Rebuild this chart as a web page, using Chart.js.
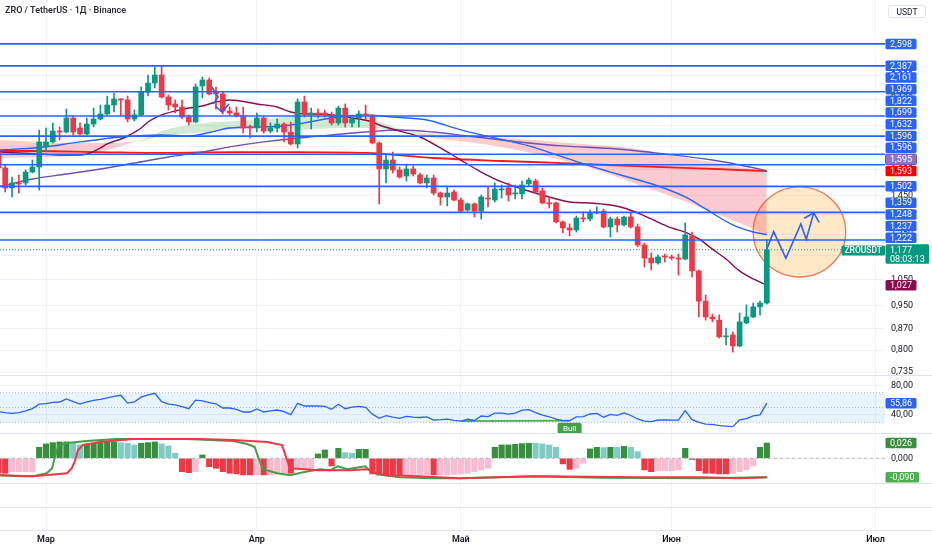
<!DOCTYPE html>
<html lang="ru">
<head>
<meta charset="utf-8">
<title>ZRO / TetherUS</title>
<script src="https://cdn.jsdelivr.net/npm/chart.js@4.4.1/dist/chart.umd.min.js"></script>
<style>
  html, body { margin:0; padding:0; background:#ffffff; }
  #wrap { position:relative; width:932px; height:550px; overflow:hidden; background:#fff; font-family: Roboto, 'Noto Sans', sans-serif; }
  canvas { position:absolute; left:0; display:block; }
  .sep { position:absolute; left:0; width:932px; height:1px; background:#e0e3eb; }
  #title { position:absolute; left:5px; top:5px; font-size:9px; font-weight:600; color:#2a2e39; white-space:nowrap; }
  #unit { position:absolute; left:888px; width:38px; top:5px; height:13px; line-height:13px; text-align:center; font-size:8.5px; color:#131722; border:1px solid #e0e3eb; border-radius:3px; box-sizing:border-box; }
</style>
</head>
<body>
<div id="wrap">
  <canvas id="cMain" width="932" height="375" style="top:0px"></canvas>
  <canvas id="cRsi" width="932" height="58" style="top:375px"></canvas>
  <canvas id="cOsc" width="932" height="50" style="top:433px"></canvas>
  <canvas id="cTime" width="932" height="67" style="top:483px"></canvas>
  <div class="sep" style="top:375px"></div>
  <div class="sep" style="top:433px"></div>
  <div class="sep" style="top:483px"></div>
  <div class="sep" style="top:507px"></div>
  <div class="sep" style="top:530px"></div>
  <div id="title">ZRO / TetherUS · 1Д · Binance</div>
  <div id="unit">USDT</div>
</div>
<script>
// ---------------- DATA ----------------
// day index 0 = 1 March; first candle = 22 Feb
const firstDay = -7;
const monthDays  = [0, 31, 61, 92, 122];
const monthNames = ['Мар', 'Апр', 'Май', 'Июн', 'Июл'];

const opens = [1.714,1.612,1.493,1.522,1.522,1.587,1.618,1.748,1.782,1.858,
  1.851,1.954,1.880,1.837,1.909,1.946,1.984,2.054,2.102,2.094,
  1.946,1.977,2.159,2.235,2.305,2.118,2.062,2.038,1.961,1.924,
  2.210,2.261,2.159,2.143,2.007,1.992,1.969,1.887,1.880,1.954,
  1.858,1.880,1.909,1.851,1.768,2.078,1.977,1.992,1.992,1.977,
  1.917,2.030,1.917,1.954,1.984,1.969,1.775,1.606,1.662,1.600,
  1.563,1.606,1.569,1.522,1.551,1.464,1.442,1.470,1.425,1.371,
  1.404,1.366,1.436,1.425,1.481,1.493,1.459,1.459,1.516,1.533,
  1.476,1.409,1.409,1.310,1.280,1.270,1.330,1.325,1.356,1.366,
  1.285,1.325,1.295,1.335,1.285,1.199,1.140,1.119,1.149,1.145,
  1.140,1.136,1.241,1.085,0.966,0.909,0.898,0.842,0.848,0.813,
  0.888,0.909,0.945,0.959];
const highs = [1.727,1.631,1.557,1.569,1.600,1.662,1.866,1.880,1.917,1.887,
  2.022,1.969,1.917,1.954,2.030,2.054,2.126,2.151,2.105,2.126,
  2.015,2.201,2.305,2.377,2.386,2.135,2.094,2.094,1.977,2.227,
  2.288,2.279,2.201,2.159,2.038,2.038,2.038,1.902,1.992,1.969,
  1.917,1.946,1.917,1.924,2.102,2.126,2.030,2.022,2.015,1.999,
  2.046,2.062,1.961,2.007,2.054,1.977,1.782,1.695,1.714,1.618,
  1.637,1.625,1.581,1.569,1.569,1.470,1.499,1.481,1.436,1.409,
  1.409,1.453,1.499,1.522,1.510,1.522,1.510,1.533,1.551,1.545,
  1.493,1.442,1.414,1.315,1.300,1.340,1.361,1.371,1.388,1.377,
  1.335,1.335,1.340,1.356,1.300,1.208,1.163,1.154,1.158,1.154,
  1.158,1.305,1.260,1.089,0.989,0.919,0.916,0.871,0.858,0.923,
  0.952,0.959,0.966,1.222];
const lows = [1.600,1.470,1.442,1.464,1.510,1.581,1.481,1.714,1.775,1.795,
  1.844,1.830,1.830,1.830,1.887,1.939,1.977,1.999,1.969,1.924,
  1.931,1.972,2.126,2.193,2.110,2.015,1.992,1.946,1.902,1.917,
  2.110,2.135,2.022,1.984,1.977,1.961,1.844,1.809,1.851,1.844,
  1.844,1.851,1.782,1.761,1.741,1.961,1.873,1.954,1.961,1.902,
  1.902,1.887,1.887,1.887,1.939,1.768,1.404,1.522,1.581,1.551,
  1.533,1.563,1.516,1.493,1.453,1.398,1.393,1.420,1.361,1.366,
  1.335,1.325,1.388,1.414,1.436,1.420,1.431,1.431,1.504,1.464,
  1.404,1.382,1.305,1.256,1.241,1.260,1.310,1.315,1.351,1.280,
  1.236,1.260,1.290,1.280,1.190,1.102,1.089,1.114,1.123,1.132,
  1.068,1.132,1.060,0.909,0.898,0.892,0.838,0.816,0.794,0.810,
  0.886,0.907,0.916,0.955];
const closes = [1.612,1.493,1.522,1.516,1.587,1.618,1.782,1.782,1.858,1.851,
  1.954,1.851,1.837,1.909,1.946,1.984,2.054,2.102,2.094,1.946,
  1.977,2.159,2.235,2.305,2.118,2.054,2.038,1.961,1.924,2.201,
  2.261,2.143,2.143,2.007,1.992,1.969,1.880,1.880,1.954,1.858,
  1.880,1.909,1.851,1.768,2.078,1.984,1.992,1.984,1.977,1.917,
  2.030,1.917,1.946,1.984,1.977,1.775,1.606,1.662,1.600,1.557,
  1.606,1.575,1.522,1.551,1.464,1.442,1.464,1.425,1.366,1.404,
  1.366,1.442,1.431,1.487,1.487,1.453,1.464,1.510,1.539,1.470,
  1.409,1.404,1.310,1.280,1.270,1.330,1.325,1.356,1.361,1.285,
  1.325,1.295,1.335,1.285,1.199,1.140,1.119,1.145,1.145,1.140,
  1.136,1.246,1.085,0.966,0.909,0.902,0.842,0.845,0.813,0.892,
  0.909,0.945,0.959,1.177];

// moving averages (day, price)
const maroonDays = [-7,-4,-1,2,5,6,8,9,11,12,14,15,17,19,21,23,25,27,28,31,34,36,38,40,45,48,49,52,55,58,61,64,67,70,74,77,80,83,85,87,89,92,94,96,98,100,102,104,106];
const maroonVals = [1.714,1.708,1.701,1.695,1.695,1.701,1.741,1.768,1.802,1.823,1.880,1.924,1.977,2.007,2.030,2.046,2.078,2.094,2.090,2.062,2.038,1.999,1.984,1.984,1.954,1.924,1.902,1.858,1.816,1.741,1.662,1.587,1.528,1.487,1.442,1.414,1.409,1.398,1.382,1.356,1.325,1.280,1.260,1.227,1.180,1.136,1.085,1.052,1.027];
const blueDays = [-7,-1,5,11,17,21,24,27,31,35,38,42,47,51,56,61,66,71,76,80,84,90,94,97,101,104,106];
const blueVals = [1.727,1.744,1.782,1.816,1.830,1.823,1.848,1.880,1.887,1.895,1.917,1.954,1.977,1.961,1.939,1.866,1.809,1.755,1.682,1.625,1.575,1.504,1.442,1.377,1.295,1.260,1.248];
const purpleDays = [-7,-2,3,8,13,18,23,27,32,37,42,47,52,57,62,67,71,76,84,91,98,102,106];
const purpleVals = [1.499,1.545,1.575,1.606,1.643,1.682,1.714,1.748,1.782,1.809,1.830,1.851,1.866,1.851,1.823,1.795,1.775,1.755,1.734,1.701,1.662,1.631,1.595];
const redDays = [-7,-2,8,18,27,37,47,57,67,76,84,96,106];
const redVals = [1.721,1.721,1.714,1.708,1.714,1.714,1.708,1.675,1.656,1.643,1.628,1.609,1.593];

// EMA cloud edges
const cloudDays = [-7,-1,5,9,12,14,17,22,31,37,43,47,50,53,57,62,67,72,77,81,86,91,95,99,102,106];
const cloudFast = [1.675,1.682,1.695,1.727,1.768,1.795,1.858,1.909,1.939,1.969,1.984,1.961,1.909,1.858,1.809,1.782,1.748,1.701,1.650,1.600,1.528,1.459,1.404,1.346,1.305,1.246];
const cloudSlow = [1.795,1.782,1.775,1.775,1.782,1.788,1.823,1.844,1.880,1.866,1.880,1.880,1.873,1.855,1.837,1.823,1.809,1.795,1.775,1.761,1.741,1.701,1.669,1.643,1.618,1.594];

// horizontal levels
const levelLines = [2.598, 2.387, 2.161, 1.969, 1.822, 1.699, 1.632, 1.502, 1.359, 1.222];
const extraLevelLabels = [1.596, 1.596, 1.237];
const priceTicks = [0.735, 0.8, 0.87, 0.95, 1.05, 1.15, 1.25, 1.35, 1.45, 1.6, 1.75, 1.9, 2.1, 2.3];
const countdown = '08:03:13';

// drawings
const zigDays = [106, 107, 108.8, 111, 111.8, 112.9];
const zigPrices = [1.180, 1.262, 1.139, 1.300, 1.225, 1.357];
const arrowDays = [111.5, 112.9, 113.7];
const arrowPrices = [1.329, 1.357, 1.308];
const mark1Days = [24.4, 25.3, 24.6];
const mark1Prices = [2.201, 2.118, 2.062];
const mark2Days = [24.9, 25.9, 26.9];
const mark2Prices = [2.046, 1.999, 2.062];
const ellipseDays = [104.0, 117.6];
const ellipsePrices = [1.060, 1.499];

// RSI
const rsiVals = [44.3,43.0,42.1,43.0,45.5,48.5,54.5,55.3,57.0,57.4,
  61.5,58.0,54.7,57.5,59.5,61.0,63.0,65.0,66.5,56.0,
  57.5,64.0,67.0,69.2,58.0,54.7,53.5,51.1,48.4,60.0,
  59.0,56.5,55.0,49.3,49.3,47.6,43.9,43.9,48.0,43.9,
  45.5,46.6,44.5,40.3,55.7,52.0,52.0,52.0,51.6,47.6,
  54.3,48.4,50.5,51.6,50.3,41.0,35.4,38.9,37.0,35.4,
  38.1,37.0,36.5,37.2,33.1,33.5,34.3,32.5,31.5,34.1,
  32.5,38.5,37.8,42.3,42.5,41.0,42.5,46.5,47.0,43.0,
  39.8,37.5,34.2,32.3,32.2,37.3,37.6,41.2,42.1,36.9,
  40.8,39.5,42.7,39.2,34.5,31.6,30.8,33.1,33.1,33.0,
  33.0,45.7,33.5,30.0,27.6,27.3,25.6,24.8,24.2,33.3,
  35.0,38.6,40.0,55.86];
const rsiLevels = [70, 50, 30];
const rsiTicks = [40, 80];
const bullStart = 61, bullEnd = 77;

// oscillator histogram + lines
const histVals = [-0.0255,-0.0255,-0.0227,-0.0227,-0.0227,-0.0227,0.0187,0.0244,0.0266,0.0278,
  0.0278,0.0255,0.0227,0.0244,0.0255,0.0266,0.0278,0.0278,0.0266,0.0255,
  0.0227,0.0255,0.0266,0.0278,0.0244,0.021,0.0085,-0.0227,-0.0244,-0.0227,
  0.0057,-0.0142,-0.017,-0.0227,-0.0255,-0.0266,-0.0283,-0.0283,-0.0283,-0.0283,
  -0.0283,-0.0266,-0.0255,-0.0255,-0.0198,-0.017,-0.017,0.0074,0.0142,-0.013,
  0.017,0.0096,0.0085,0.0153,0.0153,-0.0266,-0.0283,-0.0283,-0.0283,-0.0283,
  -0.0283,-0.0283,-0.0283,-0.0283,-0.0283,-0.0283,-0.0283,-0.0272,-0.0266,-0.0255,
  -0.0227,-0.0198,-0.017,0.0187,0.0227,0.0227,0.0238,0.025,0.0255,0.0255,
  0.0244,0.0227,0.0187,-0.0096,-0.0187,-0.017,-0.0085,0.0159,0.0187,0.0181,
  0.0187,0.0187,0.0204,0.0187,0.0113,-0.0198,-0.0227,-0.021,-0.021,-0.021,
  -0.0198,0.017,-0.002,-0.021,-0.0255,-0.0255,-0.0266,-0.0266,-0.0255,-0.0227,
  -0.0198,-0.013,0.0187,0.026];
const histStates = 'RRrrrrGGGG' + 'GggGGGGGgg' + 'gGGGgggRRr' + 'GRRRRRRRrR' + 'rrrRrrrGGR' +
  'GggGGRRRRR' + 'rrrrRrrrrr' + 'rrrGGGGGGg' + 'gggRRrrGGg' + 'GgGggRRrrr' + 'rGRRRRRRrr' + 'rrGG';
const greenLineDays = [-6.8,-3.8,-1.9,0.1,0.9,1.3,1.8,3.1,6,10.4,16.3,20.7,27.5,29.6,30.7,31.2,31.9,34,35.9,37.8,40.3,41.8,42.9,44.3,46.9,47.6,48.7,52,56.9,60.9,71.6,81.5,96,106];
const greenLineVals = [-0.04,-0.064,-0.064,0.01,0.134,0.406,0.678,0.752,0.802,0.851,0.851,0.851,0.802,0.728,0.653,0.406,0.109,0.01,-0.04,0.035,0.109,0.084,0.183,0.109,0.183,0.084,-0.015,-0.089,-0.114,-0.114,-0.064,-0.1,-0.114,-0.09];
const redLineDays = [-6.8,-1.9,3.1,3.8,4.3,4.7,5.4,7.9,12.8,17.8,22.6,27.5,32.5,34.7,35.1,35.7,36.3,39.9,44.7,47.2,48.1,50.1,54.6,60.9,72.6,87.4,96.2,102,106];
const redLineVals = [-0.04,-0.064,0.01,0.134,0.332,0.579,0.703,0.777,0.851,0.851,0.851,0.827,0.777,0.703,0.505,0.208,0.134,0.084,0.084,0.109,0.035,-0.04,-0.064,-0.114,-0.064,-0.089,-0.089,-0.114,-0.09];

// ---------------- STYLE / VIEW ----------------
const UP = '#089981', DOWN = '#F23645', BLUE = '#2962FF', MAROON = '#880E4F', PURPLE = '#6E4FB5', RED_MA = '#FF1A1A';
const GRID = '#f0f3fa', TXT = '#131722';
const HIST_COLORS = { G: '#388E3C', g: '#80CBC4', R: '#F23645', r: '#F8BBD0' };
const X_MIN = -6.765, X_MAX = 123.38;
const Y_MIN = 0.7271, Y_MAX = 3.0758;
const BOX_H = 10.5, BOX_GAP = 1.2;
const AXIS_FONT = "9px Roboto, 'Noto Sans', sans-serif";

Chart.defaults.font.family = "Roboto, 'Noto Sans', sans-serif";
Chart.defaults.font.size = 9;
Chart.defaults.color = TXT;
Chart.defaults.animation = false;

const fmt = (v, d) => v.toFixed(d).replace('.', ',');
const days = opens.map((_, i) => firstDay + i);
const pts = (xs, ys) => xs.map((x, i) => ({ x, y: ys[i] }));
const lastClose = closes[closes.length - 1];

function rr(ctx, x, y, w, h, r) {
  ctx.beginPath();
  if (ctx.roundRect) ctx.roundRect(x, y, w, h, r); else ctx.rect(x, y, w, h);
}
function drawBox(ctx, left, yc, text, bg, fg, border) {
  ctx.save();
  ctx.font = AXIS_FONT;
  const w = ctx.measureText(text).width + 9;
  rr(ctx, left, yc - BOX_H / 2, w, BOX_H, 1.5);
  ctx.fillStyle = bg; ctx.fill();
  if (border) { ctx.strokeStyle = border; ctx.lineWidth = 1; ctx.stroke(); }
  ctx.fillStyle = fg || '#fff';
  ctx.textBaseline = 'middle'; ctx.textAlign = 'left';
  ctx.fillText(text, left + 4.5, yc + 0.5);
  ctx.restore();
}
function noPad(s) { s.paddingTop = 0; s.paddingBottom = 0; s.paddingLeft = 0; s.paddingRight = 0; }
// keep the exact user range (Chart.js may round it while building ticks)
function fixRange(s, tickValues) {
  s.ticks = tickValues.map(v => ({ value: v }));
  s.min = s.options.min; s.max = s.options.max;
}

function xScale(showLabels) {
  return {
    type: 'linear', min: X_MIN, max: X_MAX, offset: false,
    afterBuildTicks(s) { fixRange(s, monthDays); },
    afterFit(s) { s.height = showLabels ? 20 : 0; noPad(s); },
    ticks: { display: showLabels, autoSkip: false, maxRotation: 0, padding: 4.5, color: TXT,
             font: { size: 9, weight: '600' },
             callback: (v) => { const k = monthDays.indexOf(v); return k >= 0 ? monthNames[k] : ''; } },
    grid: { color: GRID, drawTicks: false, offset: false },
    border: { display: false }
  };
}
function yRight(extra) {
  return Object.assign({
    position: 'right',
    afterFit(s) { s.width = 47; noPad(s); },
    grid: { color: GRID, drawTicks: false },
    border: { display: false }
  }, extra);
}
const baseOpts = {
  responsive: false, animation: false, events: [],
  layout: { padding: 0 },
  plugins: { legend: { display: false }, tooltip: { enabled: false } }
};

// ---------------- MAIN PRICE PANE ----------------
const candleColors = days.map((d, i) => closes[i] >= opens[i] ? UP : DOWN);
const mainDatasets = [];
levelLines.forEach(p => mainDatasets.push({
  type: 'line', data: [{ x: X_MIN, y: p }, { x: X_MAX, y: p }],
  borderColor: BLUE, borderWidth: 1.6, pointRadius: 0, order: 0
}));
[[zigDays, zigPrices], [arrowDays, arrowPrices], [mark1Days, mark1Prices], [mark2Days, mark2Prices]].forEach(([xs, ys]) =>
  mainDatasets.push({ type: 'line', data: pts(xs, ys), borderColor: BLUE, borderWidth: 1.6, pointRadius: 0, order: 0 }));
mainDatasets.push({ type: 'line', data: [{ x: X_MIN, y: lastClose }, { x: X_MAX, y: lastClose }],
  borderColor: UP, borderWidth: 1, borderDash: [1, 2], pointRadius: 0, order: 6 });
mainDatasets.push({ type: 'bar', data: days.map((d, i) => ({ x: d, y: [opens[i], closes[i]] })),
  backgroundColor: candleColors, barThickness: 5, grouped: false, minBarLength: 1, borderWidth: 0, order: 1 });
mainDatasets.push({ type: 'bar', data: days.map((d, i) => ({ x: d, y: [lows[i], highs[i]] })),
  backgroundColor: candleColors, barThickness: 1, grouped: false, borderWidth: 0, order: 2 });
[[maroonDays, maroonVals, MAROON, 1.4], [blueDays, blueVals, BLUE, 1.4], [purpleDays, purpleVals, PURPLE, 1.4], [redDays, redVals, RED_MA, 1.8]]
  .forEach(([xs, ys, c, w]) => mainDatasets.push({ type: 'line', data: pts(xs, ys), borderColor: c, borderWidth: w,
    pointRadius: 0, cubicInterpolationMode: 'monotone', order: 3 }));
mainDatasets.push({ type: 'line', data: pts(cloudDays, cloudFast), borderColor: 'rgba(0,0,0,0)', borderWidth: 0,
  pointRadius: 0, cubicInterpolationMode: 'monotone', order: 9,
  fill: { target: '+1', above: 'rgba(76,175,80,0.26)', below: 'rgba(242,54,69,0.26)' } });
mainDatasets.push({ type: 'line', data: pts(cloudDays, cloudSlow), borderColor: 'rgba(0,0,0,0)', borderWidth: 0,
  pointRadius: 0, cubicInterpolationMode: 'monotone', order: 10, fill: false });

const mainPlugin = {
  id: 'mainExtras',
  beforeDatasetsDraw(chart) {
    const { ctx, scales: { x, y } } = chart;
    const x1 = x.getPixelForValue(ellipseDays[0]), x2 = x.getPixelForValue(ellipseDays[1]);
    const y1 = y.getPixelForValue(ellipsePrices[0]), y2 = y.getPixelForValue(ellipsePrices[1]);
    ctx.save();
    ctx.beginPath();
    ctx.ellipse((x1 + x2) / 2, (y1 + y2) / 2, Math.abs(x2 - x1) / 2, Math.abs(y2 - y1) / 2, 0, 0, Math.PI * 2);
    ctx.fillStyle = 'rgba(255,152,0,0.22)'; ctx.fill();
    ctx.strokeStyle = '#F4774F'; ctx.lineWidth = 1.3; ctx.stroke();
    ctx.restore();
  },
  afterDraw(chart) {
    const { ctx, scales: { y }, chartArea } = chart;
    const left = chartArea.right + 0.5;
    const yc = y.getPixelForValue(lastClose);
    const items = [];
    levelLines.concat(extraLevelLabels).forEach(p => items.push({ p, bg: BLUE }));
    items.push({ p: blueVals[blueVals.length - 1], bg: BLUE });
    items.push({ p: purpleVals[purpleVals.length - 1], bg: '#8E74C6', border: '#6E4FB5' });
    items.push({ p: redVals[redVals.length - 1], bg: '#FF0000' });
    items.push({ p: maroonVals[maroonVals.length - 1], bg: MAROON });
    items.forEach(it => it.y = y.getPixelForValue(it.p));
    const curTop = yc - 5.5, curBottom = yc + 14;
    const above = items.filter(it => it.p > lastClose).sort((a, b) => b.y - a.y);
    let lim = curTop - BOX_GAP;
    above.forEach(it => { it.c = Math.min(it.y, lim - BOX_H / 2); lim = it.c - BOX_H / 2 - BOX_GAP; });
    const below = items.filter(it => it.p <= lastClose).sort((a, b) => a.y - b.y);
    lim = curBottom + BOX_GAP;
    below.forEach(it => { it.c = Math.max(it.y, lim + BOX_H / 2); lim = it.c + BOX_H / 2 + BOX_GAP; });
    items.forEach(it => drawBox(ctx, left, it.c, fmt(it.p, 3), it.bg, '#fff', it.border));

    // current price box
    ctx.save();
    ctx.font = AXIS_FONT;
    const t1 = fmt(lastClose, 3);
    const w = Math.max(ctx.measureText(t1).width, ctx.measureText(countdown).width) + 9;
    rr(ctx, left, curTop, w, 19.5, 1.5); ctx.fillStyle = UP; ctx.fill();
    ctx.fillStyle = '#fff'; ctx.textBaseline = 'middle'; ctx.textAlign = 'left';
    ctx.fillText(t1, left + 4.5, yc + 0.5);
    ctx.fillText(countdown, left + 4.5, yc + 9.5);
    // symbol tag
    ctx.font = "500 8.5px Roboto, 'Noto Sans', sans-serif";
    const sym = 'ZROUSDT';
    const sw = ctx.measureText(sym).width + 6;
    rr(ctx, chartArea.right - sw, yc - 4.3, sw, 10, 1.5); ctx.fillStyle = UP; ctx.fill();
    ctx.fillStyle = '#fff'; ctx.textAlign = 'center';
    ctx.fillText(sym, chartArea.right - sw / 2, yc + 0.9);
    ctx.restore();
  }
};

new Chart(document.getElementById('cMain'), {
  type: 'bar',
  data: { datasets: mainDatasets },
  options: Object.assign({}, baseOpts, {
    scales: {
      x: xScale(false),
      y: yRight({
        type: 'logarithmic', min: Y_MIN, max: Y_MAX,
        afterBuildTicks(s) { fixRange(s, priceTicks); },
        ticks: { autoSkip: false, padding: 6, color: TXT, font: { size: 9 }, callback: v => fmt(v, 3) }
      })
    }
  }),
  plugins: [mainPlugin]
});

// ---------------- RSI PANE ----------------
const rsiPlugin = {
  id: 'rsiExtras',
  afterDraw(chart) {
    const { ctx, scales: { x, y }, chartArea } = chart;
    const bx = x.getPixelForValue(bullEnd), by = y.getPixelForValue(rsiVals[bullEnd - firstDay]);
    ctx.save();
    ctx.beginPath(); ctx.rect(chartArea.left, chartArea.top, chartArea.width, chartArea.height); ctx.clip();
    rr(ctx, bx - 12, by + 2, 24, 12, 2); ctx.fillStyle = '#43A047'; ctx.fill();
    ctx.fillStyle = '#fff'; ctx.font = "8px Roboto, 'Noto Sans', sans-serif";
    ctx.textAlign = 'center'; ctx.textBaseline = 'middle';
    ctx.fillText('Bull', bx, by + 8.5);
    ctx.restore();
    const last = rsiVals[rsiVals.length - 1];
    drawBox(ctx, chartArea.right + 0.5, y.getPixelForValue(last), fmt(last, 2), BLUE, '#fff');
  }
};
const levelDs = (v, extra) => Object.assign({ type: 'line', data: [{ x: X_MIN, y: v }, { x: X_MAX, y: v }],
  borderColor: 'rgba(120,123,134,0.55)', borderWidth: 1, borderDash: [1, 2], pointRadius: 0 }, extra);
new Chart(document.getElementById('cRsi'), {
  type: 'line',
  data: { datasets: [
    { data: pts(days, rsiVals), borderColor: BLUE, borderWidth: 1.3, pointRadius: 0, order: 1 },
    { data: [{ x: bullStart, y: rsiVals[bullStart - firstDay] }, { x: bullEnd, y: rsiVals[bullEnd - firstDay] }],
      borderColor: '#4CAF50', borderWidth: 1.8, pointRadius: 0, order: 2 },
    levelDs(rsiLevels[0], { fill: { target: '+1' }, backgroundColor: 'rgba(33,150,243,0.11)', order: 5 }),
    levelDs(rsiLevels[2], { order: 6 }),
    levelDs(rsiLevels[1], { order: 4 })
  ] },
  options: Object.assign({}, baseOpts, {
    scales: {
      x: xScale(false),
      y: yRight({
        type: 'linear', min: 15.54, max: 93.92,
        afterBuildTicks(s) { fixRange(s, rsiTicks); },
        ticks: { autoSkip: false, padding: 6, color: TXT, font: { size: 9 }, callback: v => fmt(v, 2) }
      })
    }
  }),
  plugins: [rsiPlugin]
});

// ---------------- OSCILLATOR PANE ----------------
const oscPlugin = {
  id: 'oscExtras',
  afterDraw(chart) {
    const { ctx, scales: { y, y2 }, chartArea } = chart;
    const lh = histVals[histVals.length - 1];
    drawBox(ctx, chartArea.right + 0.5, y.getPixelForValue(lh), fmt(lh, 3), '#388E3C', '#fff');
    const lg = greenLineVals[greenLineVals.length - 1];
    drawBox(ctx, chartArea.right + 0.5, y2.getPixelForValue(lg), fmt(lg, 3), '#4CAF50', '#fff');
  }
};
new Chart(document.getElementById('cOsc'), {
  type: 'bar',
  data: { datasets: [
    { type: 'line', data: pts(redLineDays, redLineVals), yAxisID: 'y2', borderColor: '#F23645', borderWidth: 2, pointRadius: 0, order: 1 },
    { type: 'line', data: pts(greenLineDays, greenLineVals), yAxisID: 'y2', borderColor: '#43A047', borderWidth: 2, pointRadius: 0, order: 2 },
    { type: 'line', data: [{ x: X_MIN, y: 0 }, { x: X_MAX, y: 0 }], borderColor: '#B2B5BE', borderWidth: 1, borderDash: [3, 3], pointRadius: 0, order: 3 },
    { type: 'bar', data: pts(days, histVals), backgroundColor: histStates.split('').map(c => HIST_COLORS[c]),
      barThickness: 5.5, grouped: false, borderWidth: 0, order: 4 }
  ] },
  options: Object.assign({}, baseOpts, {
    scales: {
      x: xScale(false),
      y: yRight({
        type: 'linear', min: -0.042, max: 0.043,
        afterBuildTicks(s) { fixRange(s, [0]); },
        ticks: { autoSkip: false, padding: 6, color: TXT, font: { size: 9 }, callback: v => fmt(v, 3) }
      }),
      y2: { type: 'linear', display: false, min: -0.230, max: 1.0, afterFit: noPad,
            afterBuildTicks(s) { s.min = s.options.min; s.max = s.options.max; } }
    }
  }),
  plugins: [oscPlugin]
});

// ---------------- TIME AXIS ----------------
new Chart(document.getElementById('cTime'), {
  type: 'line',
  data: { datasets: [] },
  options: Object.assign({}, baseOpts, {
    scales: {
      x: xScale(true),
      y: yRight({ type: 'linear', min: 0, max: 1, ticks: { display: false }, grid: { display: false } })
    }
  })
});
</script>
</body>
</html>
